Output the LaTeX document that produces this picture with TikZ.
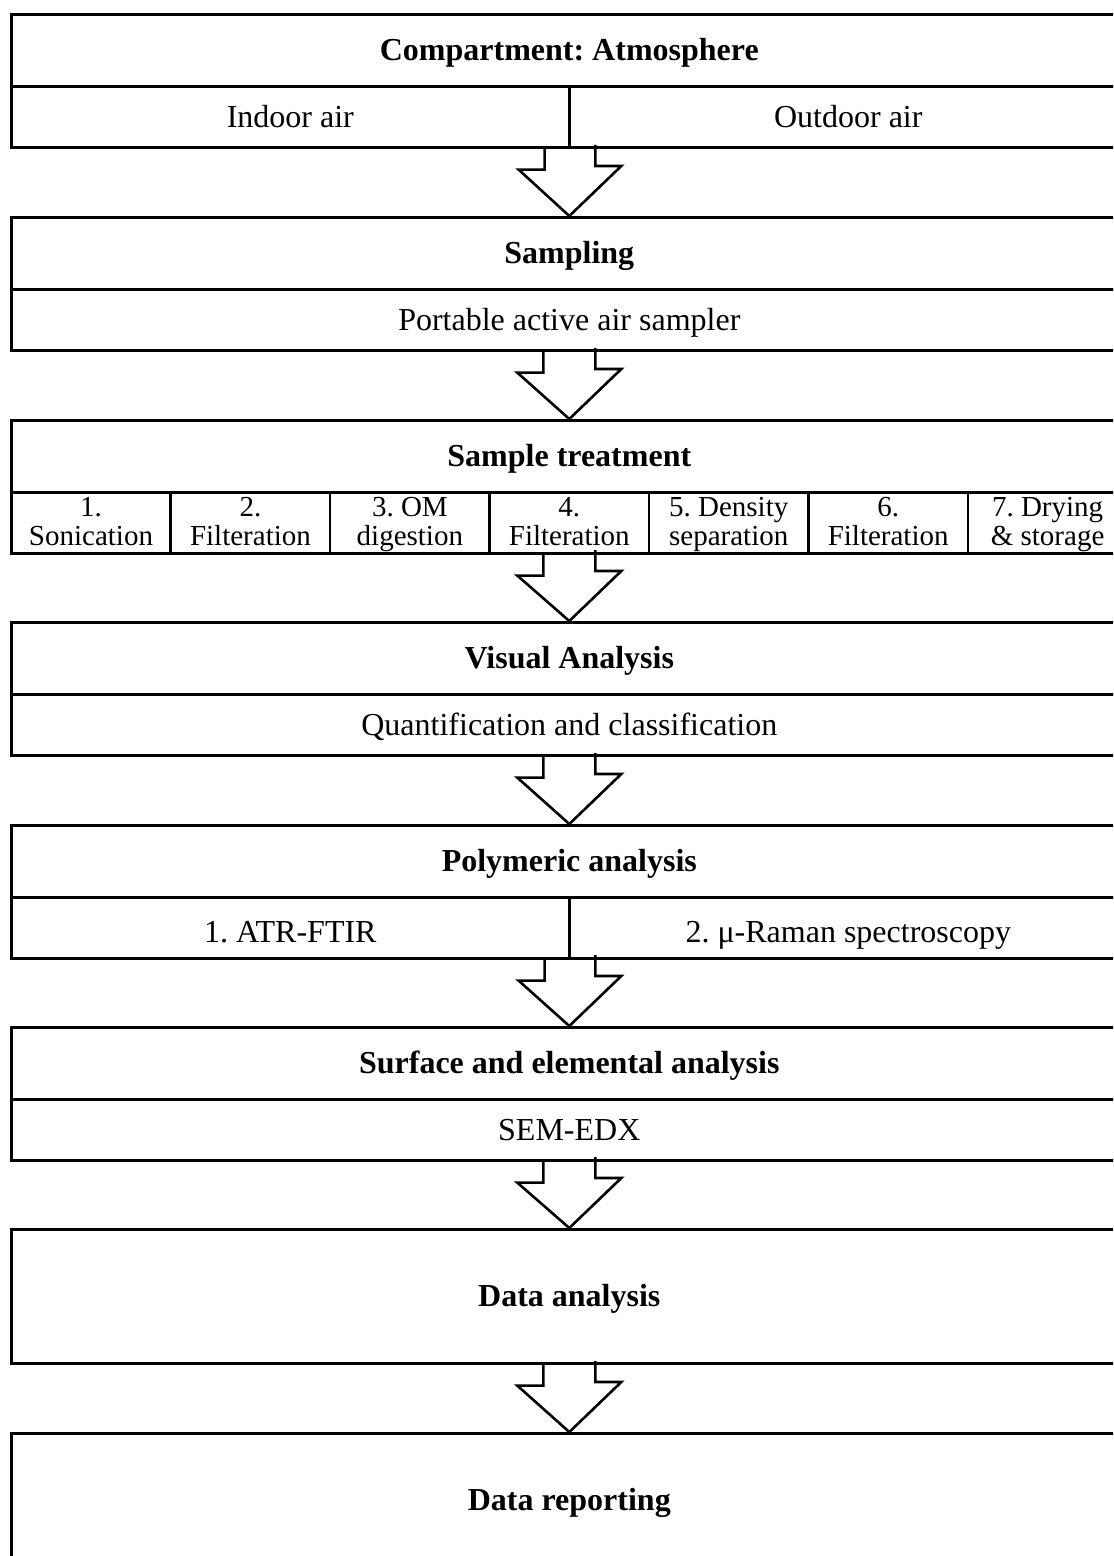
\documentclass[tikz,border=0pt]{standalone}
\usepackage{fontspec}
\setmainfont{Liberation Serif}

\tikzset{
  boxline/.style={line width=1.3pt},
  titlebox/.style={boxline, draw, anchor=north west, inner sep=0pt,
    minimum width=558pt, minimum height=36pt, text height=12pt, text depth=1.5pt,
    font=\fontsize{16}{18}\selectfont\bfseries},
  rowbox/.style={boxline, draw, anchor=north west, inner sep=0pt,
    minimum height=30.5pt, text height=12pt, text depth=1.5pt,
    font=\fontsize{16}{18}\selectfont},
  stepcell/.style={boxline, draw, anchor=north west, inner sep=0pt,
    minimum width=79.71pt, minimum height=30.5pt, align=center,
    font=\fontsize{14.5}{14.5}\selectfont},
}

% strut for the two-line cells of the treatment row
\newcommand{\cellstrut}{\rule[-3.25pt]{0pt}{14.5pt}}

% hollow block arrow from the bottom of one box to the top of the next
\newcommand{\flowarrow}[2]{%
  \draw[boxline] (#1) ++(-26,0) -- ++(0,21) -- ++(-26,0) -- (#2)
    -- ++(52,-50) -- ++(-26,0) -- ++(0,-21);}

\begin{document}
\frenchspacing
\begin{tikzpicture}[x=0.5pt,y=-0.5pt]
  \useasboundingbox (0,0) rectangle (1113,1556);
  \clip (0,0) rectangle (1113,1556);

  % compartment
  \node[titlebox] (comp) at (10,13) {Compartment: Atmosphere};
  \node[rowbox, minimum width=279pt] (indoor) at (10,85) {Indoor air};
  \node[rowbox, minimum width=279pt] (outdoor) at (568,85) {Outdoor air};

  % sampling
  \node[titlebox] (samp) at (10,216) {Sampling};
  \node[rowbox, minimum width=558pt] (sampler) at (10,288) {Portable active air sampler};

  % sample treatment
  \node[titlebox] (treat) at (10,419) {Sample treatment};
  \node[stepcell] (t1) at (10,491) {1.\cellstrut\\Sonication\cellstrut};
  \node[stepcell] (t2) at (169.43,491) {2.\cellstrut\\Filteration\cellstrut};
  \node[stepcell] (t3) at (328.86,491) {3. OM\cellstrut\\digestion\cellstrut};
  \node[stepcell] (t4) at (488.29,491) {4.\cellstrut\\Filteration\cellstrut};
  \node[stepcell] (t5) at (647.71,491) {5. Density\cellstrut\\separation\cellstrut};
  \node[stepcell] (t6) at (807.14,491) {6.\cellstrut\\Filteration\cellstrut};
  \node[stepcell] (t7) at (966.57,491) {7. Drying\cellstrut\\\& storage\cellstrut};

  % visual analysis
  \node[titlebox] (vis) at (10,621) {Visual Analysis};
  \node[rowbox, minimum width=558pt] (quant) at (10,693) {Quantification and classification};

  % polymeric analysis
  \node[titlebox] (poly) at (10,824) {Polymeric analysis};
  \node[rowbox, minimum width=279pt, text height=16pt] (atr) at (10,896) {1. ATR-FTIR};
  \node[rowbox, minimum width=279pt, text height=16pt] (raman) at (568,896) {2. μ-Raman spectroscopy};

  % surface analysis
  \node[titlebox] (surf) at (10,1026) {Surface and elemental analysis};
  \node[rowbox, minimum width=558pt] (sem) at (10,1098) {SEM-EDX};

  % data
  \node[titlebox, minimum height=67pt] (data) at (10,1228) {Data analysis};
  \node[titlebox, minimum height=67pt] (report) at (10,1432) {Data reporting};

  % arrows
  \flowarrow{indoor.south east}{samp.north}
  \flowarrow{sampler.south}{treat.north}
  \flowarrow{t4.south}{vis.north}
  \flowarrow{quant.south}{poly.north}
  \flowarrow{atr.south east}{surf.north}
  \flowarrow{sem.south}{data.north}
  \flowarrow{data.south}{report.north}
\end{tikzpicture}
\end{document}
